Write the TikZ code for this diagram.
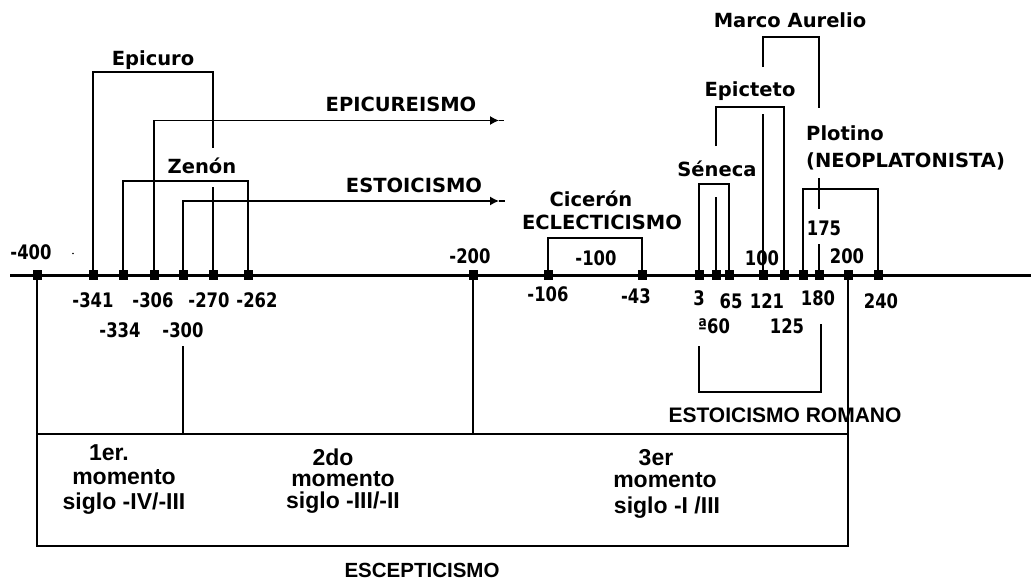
\documentclass[tikz,border=0pt]{standalone}
\usepackage{fontspec}
\setmainfont{DejaVu Sans}
\newfontfamily\nfont{DejaVu Sans}[FakeStretch=0.82]
\newfontfamily\lfont{Liberation Sans}
\usetikzlibrary{arrows.meta}
\begin{document}
\begin{tikzpicture}[x=1pt,y=-1pt,
  mk/.style={fill=black,inner sep=0pt,minimum width=9pt,minimum height=9.5pt},
  ln/.style={line width=1.3pt},
  bx/.style={line width=1.6pt},
  tline/.style={line width=3pt},
  lab/.style={font=\fontsize{19.5}{21}\selectfont\bfseries,inner sep=0pt,anchor=base},
  num/.style={font=\nfont\fontsize{20}{22}\selectfont\bfseries,inner sep=0pt,anchor=base},
  low/.style={font=\lfont\fontsize{23}{25}\selectfont\bfseries,inner sep=0pt,anchor=base},
  tiparrow/.style={-{Latex[length=9pt,width=9pt]}}
]
\useasboundingbox (0,0) rectangle (1031,581);
% timeline
\coordinate (tlA) at (10,275.5);
\coordinate (tlB) at (1031,275.5);
\draw[tline] (tlA) -- (tlB);
% markers
\foreach \n/\x in {n400/37,n341/93,n334/123,n306/154,n300/183,n270/213,n262/248,n200/473,
  n106/548,n43/642,p3/699,p60/716,p65/729,p121/763,p125/784,p175/803,p180/819,p200/848,p240/878}
  \node[mk] (\n) at (\x,275) {};
% Epicuro
\coordinate (epR) at (213,148);
\draw[ln] (n341) -- (n341 |- 0,72) -| (epR);
\coordinate (zeT) at (213,187);
\draw[ln] (zeT) -- (n270);
% Epicureismo arrow
\coordinate (epiA) at (499,120.5);
\coordinate (epiE) at (504,120.5);
\draw[ln,tiparrow] (n306) |- (epiA);
\draw[ln] (epiA) -- (epiE);
% Zenon bracket
\draw[ln] (n334) -- (n334 |- 0,181) -| (n262);
% Estoicismo arrow
\coordinate (esA) at (499,201);
\coordinate (esE) at (505,201);
\draw[ln,tiparrow] (n300) |- (esA);
\draw[ln] (esA) -- (esE);
% Ciceron
\draw[ln] (n106) -- (n106 |- 0,238) -| (n43);
% Seneca
\draw[ln] (p3) -- (p3 |- 0,184) -| (p65);
\coordinate (seT) at (716,197);
\draw[ln] (p60) -- (seT);
% Epicteto
\coordinate (epcL) at (716,146);
\draw[ln] (epcL) -- (716,107) -| (p125);
% Marco Aurelio
\coordinate (maL) at (763,67);
\coordinate (maR) at (819,108);
\draw[ln] (maL) -- (763,37) -| (maR);
\coordinate (maB) at (763,114);
\draw[ln] (maB) -- (p121);
% Plotino
\coordinate (plA) at (819,178);
\coordinate (plB) at (819,209);
\coordinate (plC) at (819,244);
\draw[ln] (plA) -- (plB);
\draw[ln] (plC) -- (p180);
\draw[ln] (p175) -- (p175 |- 0,189) -| (p240);
% Estoicismo romano
\coordinate (erL) at (699,346);
\coordinate (erR) at (821,324);
\draw[ln] (erL) -- (699,392) -| (erR);
% Escepticismo box
\draw[bx] (n400) -- (37,546) -- (848,546) -- (p200);
\draw[bx] (37,434) -- (848,434);
\coordinate (mo2) at (473,434);
\draw[ln] (n200) -- (mo2);
\coordinate (mo1a) at (183,346);
\coordinate (mo1b) at (183,434);
\draw[ln] (mo1a) -- (mo1b);
% stray dot
\fill (73,253.5) circle (0.8pt);
% top labels
\node[lab] (tEpicuro) at (153,65) {Epicuro};
\node[lab] (tEpicur) at (401,111) {EPICUREISMO};
\node[lab] (tZenon) at (202,173) {Zenón};
\node[lab] (tEstoic) at (414,192) {ESTOICISMO};
\node[lab] (tCic) at (591,206) {Cicerón};
\node[lab] (tEcl) at (602,229) {ECLECTICISMO};
\node[lab] (tMarco) at (790,27) {Marco Aurelio};
\node[lab] (tEpict) at (750,96) {Epicteto};
\node[lab] (tSen) at (717,176) {Séneca};
\node[lab,anchor=base west] (tPlot) at (806,140) {Plotino};
\node[lab,anchor=base west] (tNeo) at (806,167) {(NEOPLATONISTA)};
% numbers above
\node[num] (l400) at (31,259) {-400};
\node[num] (l200n) at (470,263) {-200};
\node[num] (l100n) at (596,265) {-100};
\node[num] (l100) at (762,265) {100};
\node[num] (l200) at (847,263) {200};
\node[num] (l175) at (824,235) {175};
% numbers below
\node[num] (l341) at (93,307) {-341};
\node[num] (l306) at (153,307) {-306};
\node[num] (l270) at (209,307) {-270};
\node[num] (l262) at (257,307) {-262};
\node[num] (l334) at (120,337) {-334};
\node[num] (l300) at (183,337) {-300};
\node[num] (l106) at (548,301) {-106};
\node[num] (l43) at (636,303) {-43};
\node[num] (l3) at (699,305) {3};
\node[num] (l65) at (731,308) {65};
\node[num] (l121) at (767,308) {121};
\node[num] (l180) at (818,305) {180};
\node[num] (l240) at (881,308) {240};
\node[num] (l60) at (714,333) {ª60};
\node[num] (l125) at (787,333) {125};
% lower labels
\node[low,font=\lfont\fontsize{21}{23}\selectfont\bfseries] (tRom) at (785,422) {ESTOICISMO ROMANO};
\node[low,font=\lfont\fontsize{20.5}{23}\selectfont\bfseries] (tEsc) at (422,577) {ESCEPTICISMO};
\node[low] (m1a) at (109,460) {1er.};
\node[low] (m1b) at (124,484) {momento};
\node[low] (m1c) at (124,509) {siglo -IV/-III};
\node[low] (m2a) at (333,465) {2do};
\node[low] (m2b) at (343,486) {momento};
\node[low] (m2c) at (343,508) {siglo -III/-II};
\node[low] (m3a) at (656,465) {3er};
\node[low] (m3b) at (665,487) {momento};
\node[low] (m3c) at (667,513) {siglo -I /III};
\end{tikzpicture}
\end{document}
